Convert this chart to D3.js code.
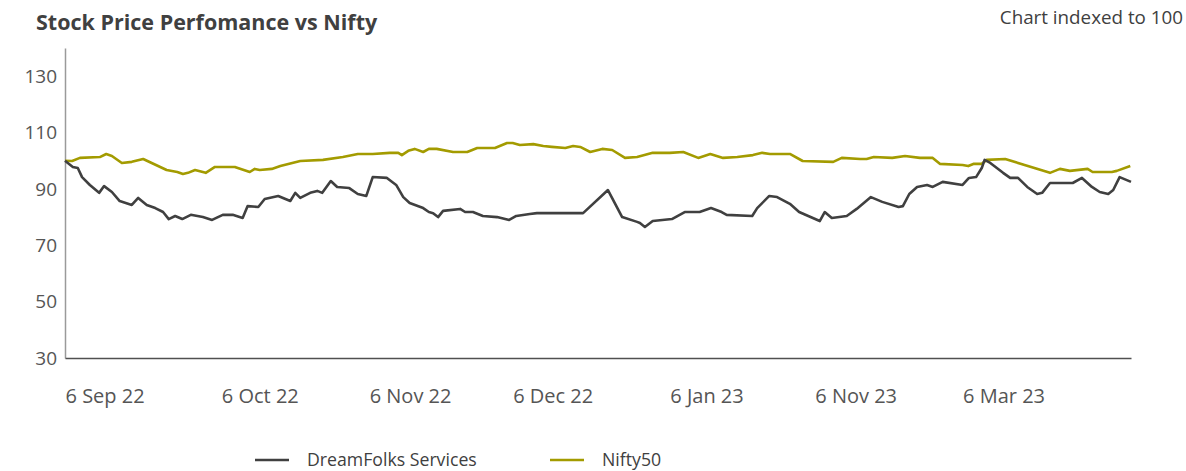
<!DOCTYPE html>
<html>
<head>
<meta charset="utf-8">
<script src="https://cdn.jsdelivr.net/npm/d3@7"></script>
<style>
  body { margin: 0; background: #fff; font-family: "Open Sans", sans-serif; }
</style>
</head>
<body>
<div id="wrapper"></div>
<script>
// trading day index (0 = 6 Sep 22), indexed value
const dreamfolks = [
    [0, 100], [1.1, 97.8], [1.8, 97.4], [2.4, 94.2], [3.5, 91.4], [4.8, 88.6], [5.5, 91.0],
    [6.6, 88.9], [7.7, 85.7], [9.4, 84.3], [10.3, 86.8], [11.5, 84.3], [12.7, 83.2],
    [13.8, 81.8], [14.6, 79.3], [15.5, 80.4], [16.5, 79.3], [17.7, 80.8], [19.4, 80.0],
    [20.7, 79.0], [22.2, 80.8], [23.6, 80.8], [25.0, 79.7], [25.7, 83.9], [27.2, 83.6],
    [28.1, 86.4], [30.0, 87.5], [31.7, 85.7], [32.4, 88.6], [33.1, 86.8], [34.5, 88.6],
    [35.5, 89.3], [36.2, 88.6], [37.4, 92.8], [38.3, 90.7], [40.0, 90.3], [41.2, 88.2],
    [42.4, 87.5], [43.3, 94.2], [45.3, 93.9], [46.6, 91.4], [47.6, 87.1], [48.5, 85.0],
    [50.4, 83.2], [51.2, 81.8], [51.8, 81.4], [52.5, 80.0], [53.2, 82.2], [55.6, 82.9],
    [56.3, 81.8], [57.4, 81.8], [58.8, 80.4], [60.8, 80.0], [62.5, 79.0], [63.5, 80.4],
    [65.4, 81.1], [66.4, 81.4], [72.9, 81.4], [76.4, 89.6], [78.4, 80.0], [80.5, 78.3],
    [80.9, 77.9], [81.6, 76.5], [82.7, 78.6], [85.4, 79.3], [87.2, 81.8], [89.3, 81.8],
    [90.9, 83.2], [92.4, 81.8], [93.1, 80.8], [96.7, 80.4], [97.4, 83.2], [99.1, 87.5],
    [100.2, 87.1], [102.0, 84.7], [103.3, 81.8], [106.2, 78.6], [106.9, 81.8], [107.9, 79.7],
    [110.0, 80.4], [111.4, 82.9], [113.4, 87.1], [115.0, 85.4], [117.3, 83.6], [117.9, 83.9],
    [118.8, 88.2], [119.9, 90.7], [121.3, 91.4], [122.1, 90.7], [123.5, 92.5], [126.3, 91.4],
    [127.2, 93.9], [128.2, 94.2], [129.0, 97.4], [129.4, 100.3], [130.2, 99.2], [132.0, 95.7],
    [133.0, 93.9], [134.1, 93.9], [135.4, 90.7], [136.8, 88.2], [137.5, 88.6], [138.6, 92.1],
    [141.8, 92.1], [143.1, 93.9], [144.5, 90.7], [145.6, 88.9], [146.8, 88.2], [147.5, 89.6],
    [148.4, 94.2], [150, 92.5],
]

const nifty = [
    [0, 100], [1, 99.9], [2.1, 101.0], [4.9, 101.3], [5.8, 102.4], [6.6, 101.7], [8.0, 99.2],
    [9.4, 99.6], [11.0, 100.6], [12.2, 99.2], [14.3, 96.7], [15.8, 96.0], [16.6, 95.3],
    [17.3, 95.7], [18.3, 96.7], [19.8, 95.7], [21.1, 97.8], [23.9, 97.8], [26.0, 96.0],
    [26.7, 97.1], [27.4, 96.7], [29.1, 97.1], [30.3, 98.1], [33.1, 99.9], [36.3, 100.3],
    [39.1, 101.3], [41.2, 102.4], [43.3, 102.4], [45.7, 102.8], [46.9, 102.8], [47.4, 102.0],
    [48.3, 103.5], [49.2, 104.2], [50.4, 103.1], [51.2, 104.2], [52.3, 104.2], [54.6, 103.1],
    [56.6, 103.1], [58.0, 104.5], [60.5, 104.5], [62.2, 106.3], [63.0, 106.3], [64.0, 105.6],
    [65.9, 105.9], [67.3, 105.2], [68.5, 104.9], [70.4, 104.5], [71.5, 105.2], [72.5, 104.9],
    [73.9, 103.1], [75.6, 104.2], [77.0, 103.8], [78.8, 101.0], [80.5, 101.3], [82.7, 102.8],
    [85.1, 102.8], [87.0, 103.1], [89.1, 101.0], [90.8, 102.4], [92.6, 101.0], [94.6, 101.3],
    [96.8, 102.0], [98.1, 102.8], [99.2, 102.4], [102.0, 102.4], [103.8, 99.9], [108.1, 99.6],
    [109.3, 101.0], [111.9, 100.6], [112.8, 100.6], [113.8, 101.3], [116.4, 101.0],
    [118.2, 101.7], [120.3, 101.0], [122.1, 101.0], [123.1, 98.9], [126.3, 98.5],
    [127.1, 98.1], [127.9, 98.9], [129.0, 98.9], [129.7, 100.3], [132.3, 100.6],
    [138.6, 95.7], [140.0, 97.1], [141.4, 96.4], [143.9, 97.1], [144.6, 96.0], [147.3, 96.0],
    [148.0, 96.4], [149.9, 98.1],
]

const xTickDays = [0, 22, 42.8, 63, 85.1, 105.5, 126.3]
const xTickLabels = ["6 Sep 22", "6 Oct 22", "6 Nov 22", "6 Dec 22", "6 Jan 23", "6 Nov 23", "6 Mar 23"]
const yTicks = [30, 50, 70, 90, 110, 130]

const seriesNames = ["DreamFolks Services", "Nifty50"]
const seriesColors = ["#404040", "#a39b00"]

let dimensions = {
    width: 1186,
    height: 471,
    margin: { top: 48, right: 55, bottom: 113, left: 65 },
}
dimensions.boundedWidth = dimensions.width - dimensions.margin.left - dimensions.margin.right
dimensions.boundedHeight = dimensions.height - dimensions.margin.top - dimensions.margin.bottom

const wrapper = d3.select("#wrapper")
    .append("svg")
    .attr("width", dimensions.width)
    .attr("height", dimensions.height)
    .style("display", "block")

const bounds = wrapper.append("g")
    .attr("transform", `translate(${dimensions.margin.left},${dimensions.margin.top})`)

const xScale = d3.scaleLinear()
    .domain([0, 150])
    .range([0, dimensions.boundedWidth])
const yScale = d3.scaleLinear()
    .domain([30, 140])
    .range([dimensions.boundedHeight, 0])

// title + note
wrapper.append("text")
    .attr("x", 36).attr("y", 30)
    .attr("fill", "#404040")
    .style("font-size", "21.5px")
    .style("font-weight", "700")
    .text("Stock Price Perfomance vs Nifty")
wrapper.append("text")
    .attr("x", 1183).attr("y", 24)
    .attr("text-anchor", "end")
    .attr("fill", "#404040")
    .style("font-size", "18.8px")
    .text("Chart indexed to 100")

// y axis
const yAxis = bounds.append("g")
    .call(d3.axisLeft(yScale).tickValues(yTicks).tickSize(0).tickPadding(8))
yAxis.select(".domain").attr("stroke", "#9a9a9a").attr("stroke-width", 1.5)
yAxis.selectAll("text")
    .attr("fill", "#555")
    .style("font-family", "Open Sans")
    .style("font-size", "19px")

// x axis
const xAxis = bounds.append("g")
    .attr("transform", `translate(0,${dimensions.boundedHeight})`)
    .call(d3.axisBottom(xScale)
        .tickValues(xTickDays)
        .tickFormat((d, i) => xTickLabels[i])
        .tickSize(0)
        .tickPadding(31))
xAxis.select(".domain").attr("stroke", "#505050").attr("stroke-width", 1.5)
xAxis.selectAll("text")
    .attr("text-anchor", "start")
    .attr("fill", "#555")
    .style("font-family", "Open Sans")
    .style("font-size", "20px")

// lines
const lineGenerator = d3.line()
    .x(d => xScale(d[0]))
    .y(d => yScale(d[1]))

const series = [dreamfolks, nifty]
bounds.selectAll(".series")
    .data([1, 0])
    .join("path")
    .attr("class", "series")
    .attr("d", i => lineGenerator(series[i]))
    .attr("fill", "none")
    .attr("stroke", i => seriesColors[i])
    .attr("stroke-width", 2.6)
    .attr("stroke-linejoin", "round")

// legend
const legendX = [255, 550]
const legend = wrapper.append("g")
    .selectAll("g")
    .data(seriesNames)
    .join("g")
    .attr("transform", (d, i) => `translate(${legendX[i]},460)`)
legend.append("line")
    .attr("x1", 0).attr("x2", 34)
    .attr("stroke", (d, i) => seriesColors[i])
    .attr("stroke-width", 2.6)
legend.append("text")
    .attr("x", 52).attr("dy", "0.35em")
    .attr("fill", "#404040")
    .style("font-size", "17.7px")
    .text(d => d)
</script>
</body>
</html>
